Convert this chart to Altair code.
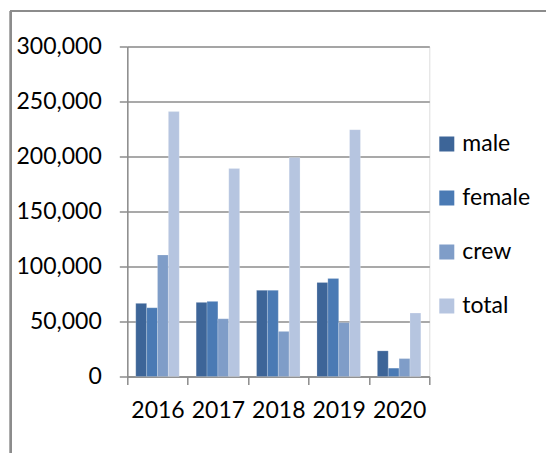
import altair as alt
import pandas as pd

years = ["2016", "2017", "2018", "2019", "2020"]
series = ["male", "female", "crew", "total"]
male = [66500, 67400, 78300, 85500, 23300]
female = [62500, 68300, 78300, 89200, 7600]
crew = [110500, 52500, 41000, 49000, 16300]
total = [240800, 189000, 199000, 224400, 57700]
colors = ["#3D6598", "#4A7AB4", "#7F9DC8", "#B6C5E0"]
y_ticks = [0, 50000, 100000, 150000, 200000, 250000, 300000]

rows = []
for name, vals in zip(series, [male, female, crew, total]):
    for yr, v in zip(years, vals):
        rows.append({"year": yr, "series": name, "value": v})
df = pd.DataFrame(rows)

FONT = "Lato"
W, H = 302, 330
PAD_L, PAD_T = 119.3, 38.5

bars = alt.Chart(df).mark_bar(stroke="white", strokeWidth=0.4, strokeOpacity=0.5).encode(
    x=alt.X("year:N", sort=years, title=None,
            scale=alt.Scale(paddingInner=0, paddingOuter=0),
            axis=alt.Axis(labelAngle=0, tickBand="extent", tickSize=8, labelPadding=15,
                          labelFontSize=23, labelFont=FONT, labelColor="#000000",
                          domainColor="#8C8C8C", tickColor="#8C8C8C",
                          domainWidth=1.5, tickWidth=1.5, grid=False)),
    xOffset=alt.XOffset("series:N", sort=series,
                        scale=alt.Scale(paddingInner=0, paddingOuter=0.778)),
    y=alt.Y("value:Q", title=None,
            scale=alt.Scale(domain=[0, 300000], nice=False),
            axis=alt.Axis(values=y_ticks, format=",.0f", tickSize=8, labelPadding=18,
                          labelFontSize=23, labelFont=FONT, labelColor="#000000",
                          domainColor="#8C8C8C", tickColor="#8C8C8C",
                          gridColor="#8C8C8C", gridWidth=1.5,
                          domainWidth=1.5, tickWidth=1.5, grid=True)),
    color=alt.Color("series:N", sort=series,
                    scale=alt.Scale(domain=series, range=colors),
                    legend=alt.Legend(title=None, orient="none", legendX=308, legendY=86,
                                      symbolType="square", symbolSize=225,
                                      symbolStrokeWidth=0, labelFontSize=23,
                                      labelFont=FONT, labelColor="#000000",
                                      labelOffset=4, rowPadding=30)),
)

frame_left = alt.Chart(df).mark_rule(color="#8C8C8C", strokeWidth=1.5).encode(
    x=alt.value(10.7 - 8 - PAD_L), y=alt.value(11 - 8 - PAD_T), y2=alt.value(600))
frame_top = alt.Chart(df).mark_rule(color="#8C8C8C", strokeWidth=1.5).encode(
    x=alt.value(10.7 - 8 - PAD_L), x2=alt.value(700), y=alt.value(11 - 8 - PAD_T))

chart = alt.layer(bars, frame_left, frame_top).properties(
    width=W, height=H,
    autosize=alt.AutoSizeParams(type="none"),
    padding={"left": PAD_L, "top": PAD_T, "right": 538 - PAD_L - W, "bottom": 445 - PAD_T - H},
).configure_view(stroke=None).configure(background="white")

chart.save("out.html", embed_options={"renderer": "svg", "actions": False})
